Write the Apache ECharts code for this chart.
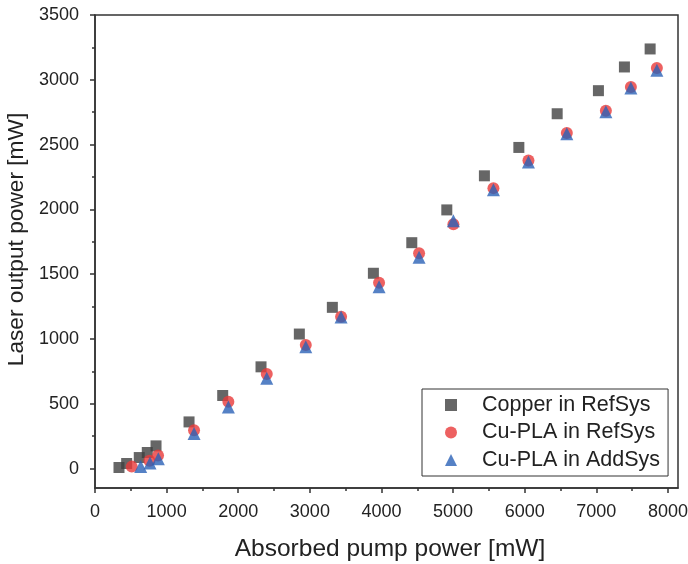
<!DOCTYPE html>
<html>
<head>
<meta charset="utf-8">
<script src="https://cdn.jsdelivr.net/npm/echarts@6/dist/echarts.min.js"></script>
<style>html,body{margin:0;padding:0;background:#fff}#c{width:688px;height:564px}</style>
</head>
<body>
<div id="c"></div>
<script>
// Data
const copperX = [335, 442, 618, 730, 852, 1313, 1783, 2318, 2853, 3314, 3887, 4423, 4912, 5437, 5918, 6453, 7029, 7392, 7751];
const copperY = [8, 39, 85, 124, 175, 360, 564, 785, 1038, 1244, 1507, 1743, 1996, 2259, 2478, 2738, 2916, 3099, 3238];
const pla1X = [513, 760, 880, 1383, 1862, 2398, 2943, 3436, 3966, 4525, 5004, 5563, 6052, 6588, 7133, 7482, 7845];
const pla1Y = [15, 60, 100, 296, 515, 729, 953, 1172, 1434, 1662, 1886, 2164, 2377, 2589, 2761, 2944, 3091];
const pla2X = [638, 768, 884, 1383, 1862, 2398, 2943, 3436, 3966, 4525, 5004, 5563, 6052, 6588, 7133, 7482, 7845];
const pla2Y = [16, 42, 76, 270, 476, 696, 940, 1169, 1403, 1631, 1913, 2151, 2365, 2583, 2753, 2937, 3073];
const seriesNames = ['Copper in RefSys', 'Cu-PLA in RefSys', 'Cu-PLA in AddSys'];
const xMajor = [0, 1000, 2000, 3000, 4000, 5000, 6000, 7000, 8000];
const xMinor = [500, 1500, 2500, 3500, 4500, 5500, 6500, 7500];
const yMajor = [0, 500, 1000, 1500, 2000, 2500, 3000, 3500];
const yMinor = [250, 750, 1250, 1750, 2250, 2750, 3250];

const zip = (a, b) => a.map((v, i) => [v, b[i]]);
const FONT = '"Liberation Sans", Arial, sans-serif';
const AX = '#333';
const plain = v => String(v);

const chart = echarts.init(document.getElementById('c'), null, {renderer: 'canvas'});
const X_MIN = 0, X_MAX = 8140, Y_MIN = -150, Y_MAX = 3500;

chart.setOption({
  animation: false,
  backgroundColor: '#fff',
  grid: {left: 95, right: 10, top: 15, bottom: 76, outerBoundsMode: 'none', containLabel: false,
         show: true, borderColor: AX, borderWidth: 1.5, backgroundColor: 'transparent'},
  xAxis: [{
    type: 'value', min: X_MIN, max: X_MAX,
    name: 'Absorbed pump power [mW]', nameLocation: 'middle', nameGap: 49,
    nameTextStyle: {fontFamily: FONT, fontSize: 24.5, color: '#222', padding: [0, 0, 0, 7]},
    axisLine: {show: true, onZero: false, lineStyle: {color: AX, width: 1.5}},
    axisTick: {show: true, inside: false, length: 5, customValues: xMajor, lineStyle: {color: AX, width: 1.5}},
    axisLabel: {customValues: xMajor, formatter: plain, margin: 15, fontFamily: FONT, fontSize: 18, color: '#222'},
    splitLine: {show: false}
  }, {
    type: 'value', min: X_MIN, max: X_MAX, position: 'bottom',
    axisLine: {show: false, onZero: false},
    axisTick: {show: true, inside: false, length: 3, customValues: xMinor, lineStyle: {color: AX, width: 1.5}},
    axisLabel: {show: false}, splitLine: {show: false}
  }],
  yAxis: [{
    type: 'value', min: Y_MIN, max: Y_MAX,
    name: 'Laser output power [mW]', nameLocation: 'middle', nameGap: 63,
    nameTextStyle: {fontFamily: FONT, fontSize: 22.7, color: '#222', padding: [0, 0, 0, 24]},
    axisLine: {show: true, onZero: false, lineStyle: {color: AX, width: 1.5}},
    axisTick: {show: true, inside: false, length: 5, customValues: yMajor, lineStyle: {color: AX, width: 1.5}},
    axisLabel: {customValues: yMajor, formatter: plain, margin: 16, fontFamily: FONT, fontSize: 18, color: '#222'},
    splitLine: {show: false}
  }, {
    type: 'value', min: Y_MIN, max: Y_MAX, position: 'left',
    axisLine: {show: false, onZero: false},
    axisTick: {show: true, inside: false, length: 3, customValues: yMinor, lineStyle: {color: AX, width: 1.5}},
    axisLabel: {show: false}, splitLine: {show: false}
  }],
  legend: {
    orient: 'vertical', left: 422, top: 389,
    padding: [5, 8, 5, 23],
    borderColor: AX, borderWidth: 1, backgroundColor: '#fff',
    itemWidth: 12, itemHeight: 12, itemGap: 5.5,
    textStyle: {fontFamily: FONT, fontSize: 21.5, lineHeight: 22, color: '#222', padding: [0, 0, 0, 20]},
    data: seriesNames
  },
  series: [
    {name: seriesNames[0], type: 'scatter', symbol: 'rect', symbolSize: 11, itemStyle: {color: '#404040'}, data: zip(copperX, copperY), z: 2},
    {name: seriesNames[1], type: 'scatter', symbol: 'circle', symbolSize: 12, itemStyle: {color: '#e8393a'}, data: zip(pla1X, pla1Y), z: 3},
    {name: seriesNames[2], type: 'scatter', symbol: 'triangle', symbolSize: 13, itemStyle: {color: '#2b62b6'}, data: zip(pla2X, pla2Y), z: 4}
  ]
});
</script>
</body>
</html>
